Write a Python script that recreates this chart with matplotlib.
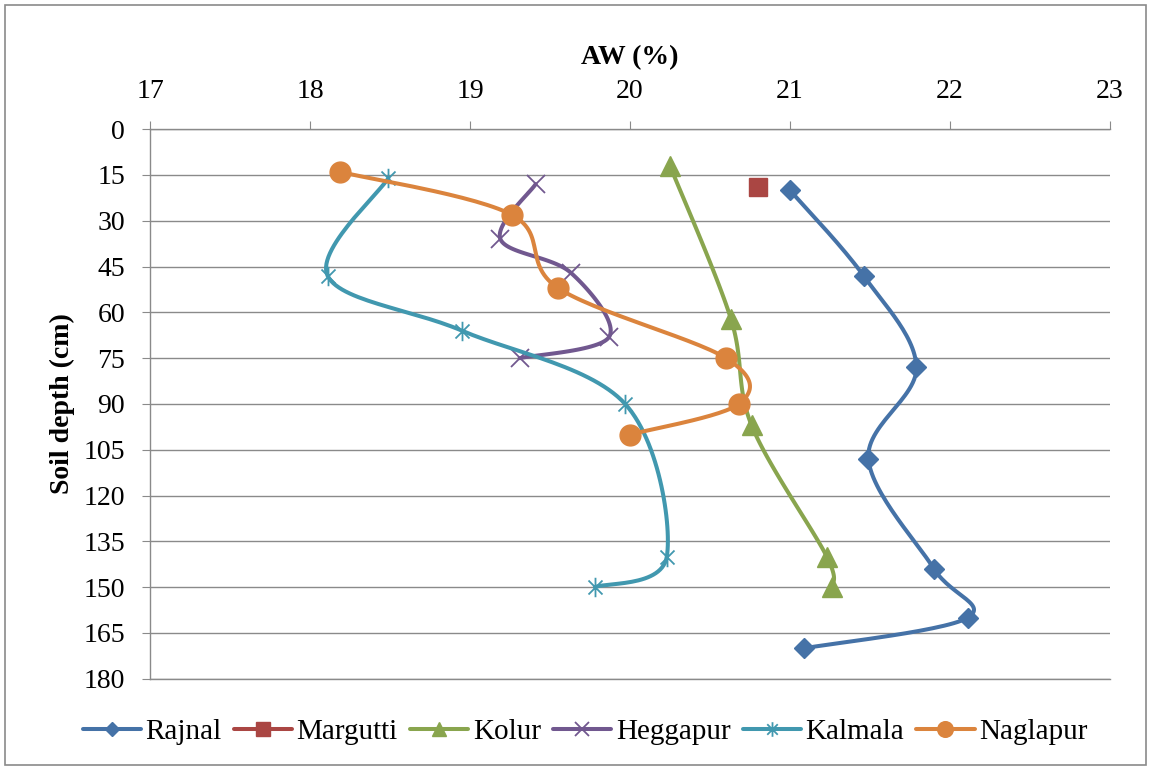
import numpy as np
import matplotlib
matplotlib.use("Agg")
import matplotlib.pyplot as plt
from matplotlib.path import Path
from matplotlib.patches import Rectangle

plt.rcParams['font.family'] = ['Liberation Serif', 'DejaVu Serif']

# AW (%) on x, soil depth (cm) on y
rajnal_aw = [21.00, 21.46, 21.79, 21.49, 21.90, 22.11, 21.09]
rajnal_depth = [20, 48, 78, 108, 144, 160, 170]

margutti_aw = [20.80]
margutti_depth = [19]

kolur_aw = [20.25, 20.63, 20.76, 21.23, 21.26]
kolur_depth = [12, 62, 97, 140, 150]

heggapur_aw = [19.41, 19.19, 19.63, 19.87, 19.31]
heggapur_depth = [18, 36, 47, 68, 75]

kalmala_aw = [18.49, 18.11, 18.95, 19.97, 20.23, 19.78]
kalmala_depth = [16, 48, 66, 90, 140, 150]

naglapur_aw = [18.19, 19.26, 19.55, 20.60, 20.68, 20.00]
naglapur_depth = [14, 28, 52, 75, 90, 100]

x_ticks = [17, 18, 19, 20, 21, 22, 23]
y_ticks = list(range(0, 181, 15))

GRAY = '#8a8a8a'

# Excel style star: vertical bar plus an X
star = Path([(0, -1), (0, 1), (-0.72, -0.72), (0.72, 0.72), (-0.72, 0.72), (0.72, -0.72)],
            [Path.MOVETO, Path.LINETO, Path.MOVETO, Path.LINETO, Path.MOVETO, Path.LINETO])


def smooth(xs, ys, n=30):
    # Bezier smoothing through the points, like Excel's "smoothed line"
    p = np.column_stack([xs, ys]).astype(float)
    if len(p) < 2:
        return p[:, 0], p[:, 1], [0]
    pts = np.vstack([p[0], p, p[-1]])
    t = np.linspace(0, 1, n)[:, None]
    out = [p[:1]]
    for i in range(1, len(pts) - 2):
        p0, p1, p2, p3 = pts[i - 1:i + 3]
        c1 = p1 + (p2 - p0) / 6
        c2 = p2 - (p3 - p1) / 6
        seg = (1 - t) ** 3 * p1 + 3 * (1 - t) ** 2 * t * c1 + 3 * (1 - t) * t ** 2 * c2 + t ** 3 * p2
        out.append(seg[1:])
    curve = np.vstack(out)
    marks = [i * (n - 1) for i in range(len(p))]
    return curve[:, 0], curve[:, 1], marks


series = [
    ("Rajnal", rajnal_aw, rajnal_depth, '#4572A7', 'D', 10, 1.0),
    ("Margutti", margutti_aw, margutti_depth, '#AA4643', 's', 13.5, 1.0),
    ("Kolur", kolur_aw, kolur_depth, '#89A54E', '^', 14, 1.0),
    ("Heggapur", heggapur_aw, heggapur_depth, '#71588F', 'x', 12.5, 1.3),
    ("Kalmala", kalmala_aw, kalmala_depth, '#4198AF', star, 14, 1.3),
    ("Naglapur", naglapur_aw, naglapur_depth, '#DB843D', 'o', 15, 1.0),
]

fig = plt.figure(figsize=(11.51, 7.69), dpi=100)
ax = fig.add_axes([150 / 1151, 1 - 678.8 / 769, 960 / 1151, 549.6 / 769])

for name, xs, ys, col, mk, ms, mew in series:
    sx, sy, marks = smooth(xs, ys)
    ax.plot(sx, sy, color=col, lw=2.9, marker=mk, markevery=marks, ms=ms,
            mfc=col, mec=col, mew=mew, label=name, solid_capstyle='round')

ax.set_xlim(17, 23)
ax.set_ylim(180, 0)
ax.set_xticks(x_ticks)
ax.set_yticks(y_ticks)
ax.xaxis.tick_top()
ax.yaxis.grid(True, color=GRAY, lw=1.0)
ax.set_axisbelow(True)
ax.spines['right'].set_visible(False)
for s in ['top', 'left', 'bottom']:
    ax.spines[s].set_color(GRAY)
    ax.spines[s].set_linewidth(1.0)
ax.tick_params(axis='x', which='both', top=True, bottom=False, direction='out', length=6,
               width=0.8, color=GRAY, labelsize=20, pad=12)
ax.tick_params(axis='y', direction='out', length=6, width=0.8, color=GRAY, labelsize=20, pad=12)

fig.text(630 / 1151, 1 - 58 / 769, "AW (%)", ha='center', va='center', fontsize=20, fontweight='bold')
fig.text(62 / 1151, 1 - 404 / 769, "Soil depth (cm)", ha='center', va='center', rotation=90,
         fontsize=20, fontweight='bold')

fig.legend(loc='center', bbox_to_anchor=(585 / 1151, 1 - 732 / 769), ncol=6, frameon=False,
           prop={'family': ['Liberation Serif'], 'size': 21}, numpoints=1, handlelength=2.0,
           handletextpad=0.15, columnspacing=0.42, markerscale=0.75)

fig.patches.append(Rectangle((5 / 1151, 4 / 769), 1141 / 1151, 760 / 769, transform=fig.transFigure,
                             fill=False, edgecolor=GRAY, lw=1.2))

fig.savefig("out.png", dpi=100)
